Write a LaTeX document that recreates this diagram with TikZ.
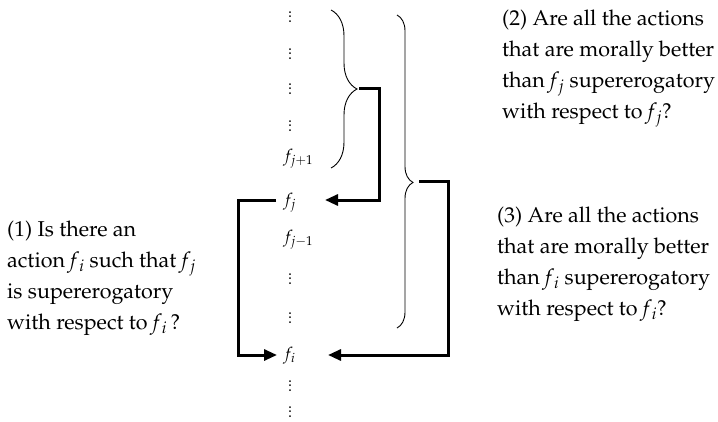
\documentclass[tikz,border=0pt]{standalone}
\usepackage[T1]{fontenc}
\usepackage{mathpazo}
\usetikzlibrary{arrows.meta,decorations.pathreplacing}
\newcommand{\fx}[1]{\textit{f}\textsubscript{\textit{#1}}}
\newcommand{\myvdots}{\vbox{\baselineskip4.3pt\lineskiplimit-5pt\hbox{.}\hbox{.}\hbox{.}}}
\begin{document}
\begin{tikzpicture}[x=1pt,y=-1pt,
  conn/.style={line width=3pt,-{Triangle[length=13pt,width=11pt]}},
  br/.style={decorate,decoration={brace,amplitude=#1},line width=0.9pt},
  fn/.style={font=\fontsize{17}{20}\selectfont,inner sep=0pt,anchor=base west},
  dts/.style={font=\fontsize{16}{14}\selectfont,inner sep=0pt},
  q/.style={font=\fontsize{21.5}{31}\selectfont,align=left,inner sep=0pt,anchor=base west}]
\useasboundingbox (0,0) rectangle (718,421);
% column
\node[dts] (d1) at (290,17) {\myvdots};
\node[dts] (d2) at (290,54) {\myvdots};
\node[dts] (d3) at (290,89) {\myvdots};
\node[dts] (d4) at (290,126) {\myvdots};
\node[fn] (fj1) at (283,161) {$f_{j+1}$};
\node[fn] (fj) at (283,205) {$f_j$};
\node[fn] (fjm) at (283,242) {$f_{j-1}$};
\node[dts] (d5) at (290,279) {\myvdots};
\node[dts] (d6) at (290,318) {\myvdots};
\node[fn] (fi) at (283,359) {$f_i$};
\node[dts] (d7) at (290,386) {\myvdots};
\node[dts] (d8) at (290,412) {\myvdots};
% braces
\draw[br=26pt,decoration={aspect=0.5}] (331,10) -- (331,168);
\draw[br=16pt,decoration={aspect=0.535}] (397,15) -- (397,328);
\coordinate (b1) at (359,88);
\coordinate (b2) at (419,181);
\coordinate (aj) at (325,200);
\coordinate (ai) at (328,355);
\coordinate (lj) at (276,200);
\coordinate (li) at (277,355);
% connectors
\draw[conn] (b1) -| ([xshift=54pt]aj) -- (aj);
\draw[conn] (b2) -| ([xshift=120pt]ai) -- (ai);
\draw[conn] (lj) -| ([xshift=-39pt]li) -- (li);
% questions
\node[q] (q1) at (7,329) {(1) Is there an\\action \fx{i} such that \fx{j}\\is supererogatory\\with respect to \fx{i}\,?};
\node[q] (q2) at (502,118) {(2) Are all the actions\\that are morally better\\than \fx{j} supererogatory\\with respect to \fx{j}?};
\node[q] (q3) at (497,315) {(3) Are all the actions\\that are morally better\\than \fx{i} supererogatory\\with respect to \fx{i}?};
\end{tikzpicture}
\end{document}
